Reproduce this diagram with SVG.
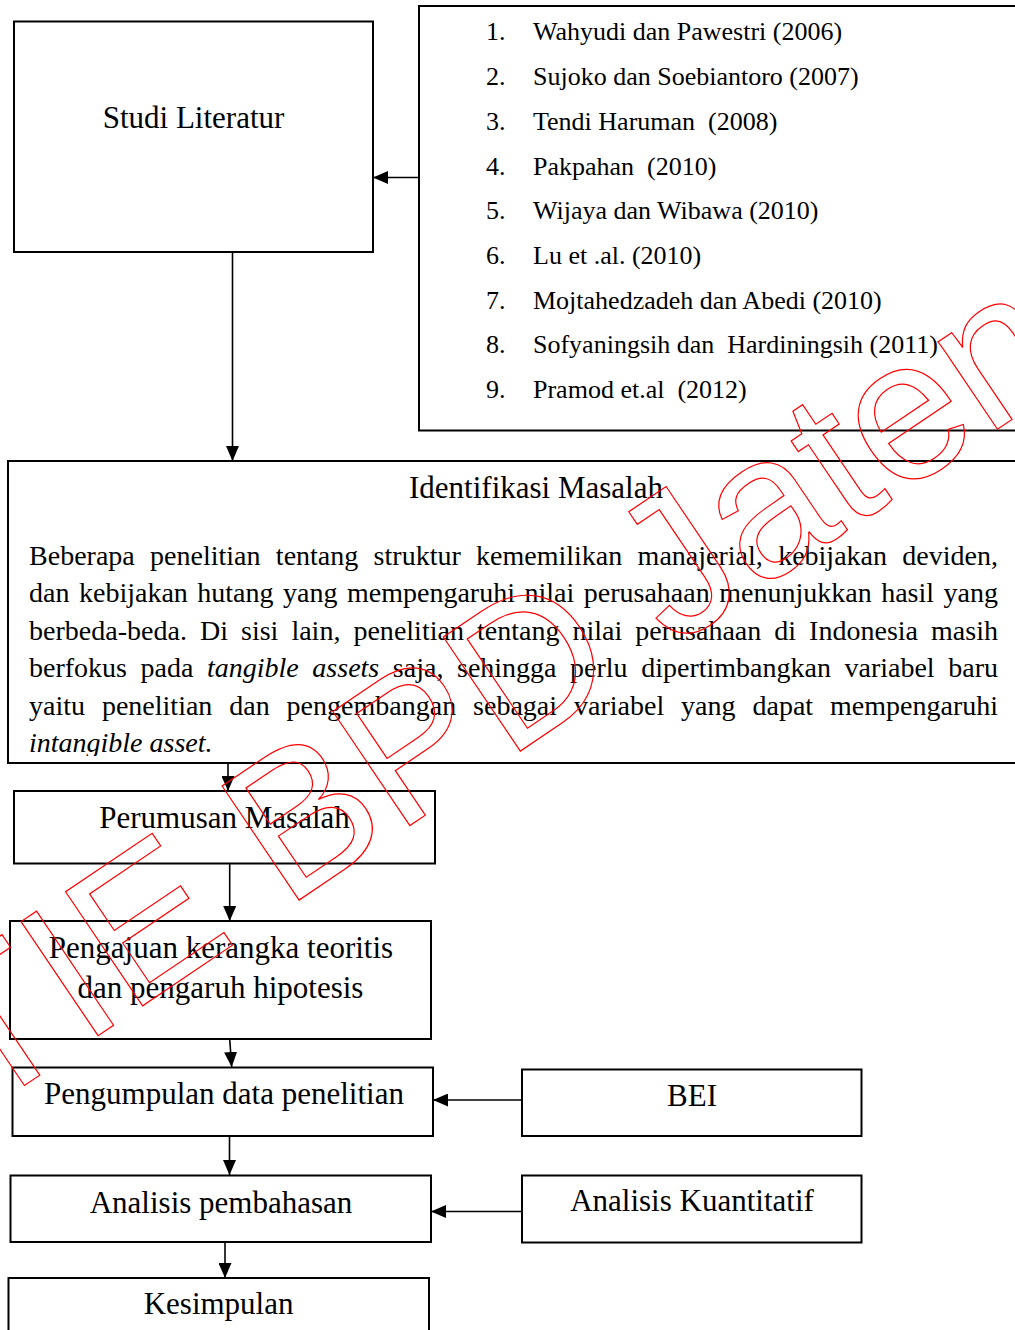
<svg xmlns="http://www.w3.org/2000/svg" width="1015" height="1330" viewBox="0 0 1015 1330">
<style>
.box{fill:#fff;stroke:#000;stroke-width:2}
.h{font-family:"Liberation Serif","Times New Roman",serif;font-size:31px;fill:#000;text-anchor:middle}
.li{font-family:"Liberation Serif","Times New Roman",serif;font-size:26px;fill:#000;white-space:pre}
.p{font-family:"Liberation Serif","Times New Roman",serif;font-size:28px;fill:#000}
.it{font-style:italic}
.c{fill:none;stroke:#000;stroke-width:1.6}
.wm{font-family:"Liberation Sans",Arial,sans-serif;font-size:200px;fill:none;stroke:#ff0000;stroke-width:1.2}
</style>
<defs>
<marker id="ah" markerUnits="userSpaceOnUse" markerWidth="15" markerHeight="13" refX="15" refY="6.5" orient="auto">
<path d="M0,0 L15,6.5 L0,13 z" fill="#000"/>
</marker>
<clipPath id="pc"><rect x="8" y="461" width="1010" height="295"/></clipPath>
</defs>
<rect width="1015" height="1330" fill="#fff"/>

<g id="connectors">
<line class="c" x1="419" y1="177.5" x2="373" y2="177.5" marker-end="url(#ah)"/>
<line class="c" x1="232.5" y1="252" x2="232.5" y2="461" marker-end="url(#ah)"/>
<line class="c" x1="228" y1="763" x2="228" y2="791" marker-end="url(#ah)"/>
<line class="c" x1="229.7" y1="863" x2="229.7" y2="921" marker-end="url(#ah)"/>
<line class="c" x1="229.7" y1="1039" x2="231.7" y2="1067" marker-end="url(#ah)"/>
<line class="c" x1="522" y1="1100" x2="433" y2="1100" marker-end="url(#ah)"/>
<line class="c" x1="229.5" y1="1136" x2="229.5" y2="1175" marker-end="url(#ah)"/>
<line class="c" x1="522" y1="1211.5" x2="431" y2="1211.5" marker-end="url(#ah)"/>
<line class="c" x1="225" y1="1242" x2="225" y2="1278" marker-end="url(#ah)"/>
</g>

<g id="studi-literatur">
<rect class="box" x="14" y="21.5" width="359" height="230.5"/>
<text class="h" x="193.5" y="128">Studi Literatur</text>
</g>

<g id="daftar-pustaka">
<rect class="box" x="419" y="6" width="620" height="424.5"/>
<text class="li" x="486" y="40">1.</text><text class="li" x="533" y="40">Wahyudi dan Pawestri (2006)</text>
<text class="li" x="486" y="84.5">2.</text><text class="li" x="533" y="84.5">Sujoko dan Soebiantoro (2007)</text>
<text class="li" x="486" y="129.5">3.</text><text class="li" x="533" y="129.5" xml:space="preserve">Tendi Haruman  (2008)</text>
<text class="li" x="486" y="174.5">4.</text><text class="li" x="533" y="174.5" xml:space="preserve">Pakpahan  (2010)</text>
<text class="li" x="486" y="219">5.</text><text class="li" x="533" y="219">Wijaya dan Wibawa (2010)</text>
<text class="li" x="486" y="264">6.</text><text class="li" x="533" y="264">Lu et .al. (2010)</text>
<text class="li" x="486" y="308.5">7.</text><text class="li" x="533" y="308.5">Mojtahedzadeh dan Abedi (2010)</text>
<text class="li" x="486" y="353">8.</text><text class="li" x="533" y="353" xml:space="preserve">Sofyaningsih dan  Hardiningsih (2011)</text>
<text class="li" x="486" y="397.5">9.</text><text class="li" x="533" y="397.5" xml:space="preserve">Pramod et.al  (2012)</text>
</g>

<g id="identifikasi-masalah">
<rect class="box" x="8" y="461" width="1030" height="302"/>
<text class="h" x="536" y="498">Identifikasi Masalah</text>
<g clip-path="url(#pc)">
<text class="p" x="29" y="565" word-spacing="8.3" textLength="969" lengthAdjust="spacing">Beberapa penelitian tentang struktur kememilikan manajerial, kebijakan deviden,</text>
<text class="p" x="29" y="602" word-spacing="2.5" textLength="969" lengthAdjust="spacing">dan kebijakan hutang yang mempengaruhi nilai perusahaan menunjukkan hasil yang</text>
<text class="p" x="29" y="639.5" word-spacing="6" textLength="969" lengthAdjust="spacing">berbeda-beda. Di sisi lain, penelitian tentang nilai perusahaan di Indonesia masih</text>
<text class="p" x="29" y="677" word-spacing="6.6" textLength="969" lengthAdjust="spacing">berfokus pada <tspan class="it">tangible assets</tspan> saja, sehingga perlu dipertimbangkan variabel baru</text>
<text class="p" x="29" y="715" word-spacing="9.9" textLength="969" lengthAdjust="spacing">yaitu penelitian dan pengembangan sebagai variabel yang dapat mempengaruhi</text>
<text class="p it" x="29" y="752">intangible asset.</text>
</g>
</g>

<g id="perumusan-masalah">
<rect class="box" x="14" y="791" width="421" height="72.5"/>
<text class="h" x="224.5" y="828">Perumusan Masalah</text>
</g>

<g id="pengajuan-kerangka">
<rect class="box" x="10" y="921" width="421" height="118"/>
<text class="h" x="221" y="958">Pengajuan kerangka teoritis</text>
<text class="h" x="220.5" y="998">dan pengaruh hipotesis</text>
</g>

<g id="pengumpulan-data">
<rect class="box" x="12.5" y="1067.5" width="420.5" height="68.5"/>
<text class="h" x="224" y="1103.5">Pengumpulan data penelitian</text>
</g>

<g id="bei">
<rect class="box" x="522" y="1069.5" width="339.5" height="66.5"/>
<text class="h" x="692" y="1106">BEI</text>
</g>

<g id="analisis-pembahasan">
<rect class="box" x="10.5" y="1175.5" width="420.5" height="66.5"/>
<text class="h" x="221" y="1213">Analisis pembahasan</text>
</g>

<g id="analisis-kuantitatif">
<rect class="box" x="522" y="1175.5" width="339.5" height="67"/>
<text class="h" x="692" y="1211">Analisis Kuantitatif</text>
</g>

<g id="kesimpulan">
<rect class="box" x="8.5" y="1278" width="420.5" height="80"/>
<text class="h" x="218.6" y="1313.5">Kesimpulan</text>
</g>

<g id="watermark">
<text class="wm" transform="translate(-129,1189) rotate(-34)">STIE BPD Jateng</text>
</g>
</svg>
